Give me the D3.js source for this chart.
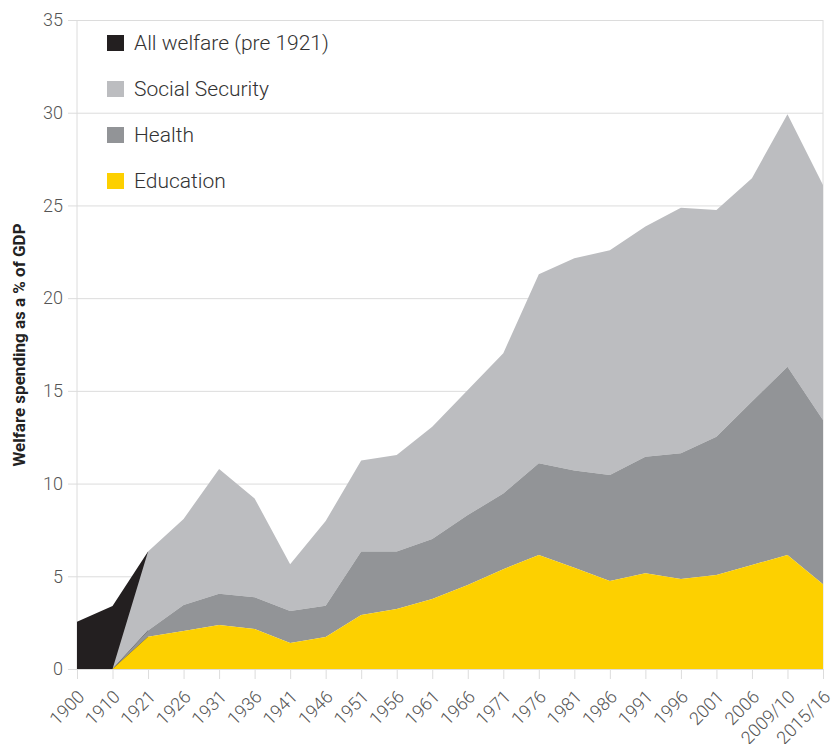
<!DOCTYPE html>
<html lang="en">
  <head>
    <meta charset="utf-8">
    <title>Welfare spending</title>
    <script src="https://cdn.jsdelivr.net/npm/d3@7"></script>
    <style>
      body { margin: 0; background: #fff; }
      text { font-family: Roboto, "Open Sans", sans-serif; }
    </style>
  </head>
  <body>
    <script>
    // categories along the bottom
    var years = ["1900", "1910", "1921", "1926", "1931", "1936", "1941", "1946",
                 "1951", "1956", "1961", "1966", "1971", "1976", "1981", "1986",
                 "1991", "1996", "2001", "2006", "2009/10", "2015/16"];

    // all welfare before 1921 (1900, 1910, 1921)
    var allWelfare = [2.55, 3.4, 6.33];

    // stacked series, from 1910 onwards
    var education = [0, 1.74, 2.05, 2.37, 2.16, 1.40, 1.73, 2.91, 3.24, 3.78, 4.53,
                     5.38, 6.15, 5.46, 4.75, 5.16, 4.85, 5.07, 5.61, 6.15, 4.57];
    var health = [0, 0.33, 1.40, 1.69, 1.71, 1.73, 1.68, 3.42, 3.09, 3.23, 3.77,
                  4.09, 4.94, 5.24, 5.71, 6.29, 6.78, 7.46, 8.81, 10.15, 8.86];
    var socialSecurity = [0, 4.26, 4.64, 6.73, 5.33, 2.52, 4.57, 4.91, 5.21, 6.06, 6.75,
                          7.56, 10.20, 11.45, 12.12, 12.41, 13.25, 12.23, 12.05, 13.62, 12.67];

    var yTicks = [0, 5, 10, 15, 20, 25, 30, 35];

    var legendItems = [
      {name: "All welfare (pre 1921)", color: "#231f20"},
      {name: "Social Security", color: "#bcbdc0"},
      {name: "Health", color: "#929497"},
      {name: "Education", color: "#fdd000"}
    ];

    var w = 832;
    var h = 744;
    // plot edges
    var plotLeft = 77, plotRight = 823, plotTop = 20, plotBottom = 669;
    var gridColor = "#dcdcdc";

    var svg = d3.select("body")
                .append("svg")
                .attr("width", w)
                .attr("height", h);

    var xScale = d3.scalePoint()
                   .domain(years)
                   .range([plotLeft, plotRight]);
    var yScale = d3.scaleLinear()
                   .domain([0, 35])
                   .range([plotBottom, plotTop]);

    // gridlines + y labels
    var yAxis = d3.axisLeft(yScale)
                  .tickValues(yTicks)
                  .tickSize(-(plotRight - plotLeft))
                  .tickPadding(14);

    var gy = svg.append("g")
                .attr("transform", "translate(" + plotLeft + ",0)")
                .call(yAxis);
    gy.select(".domain").remove();
    gy.selectAll(".tick line")
      .attr("x1", -9)
      .attr("stroke", gridColor);
    gy.selectAll(".tick text")
      .attr("font-size", 18)
      .attr("font-weight", 300)
      .attr("fill", "#555");

    // vertical frame lines
    svg.append("line")
       .attr("x1", plotLeft).attr("x2", plotLeft)
       .attr("y1", plotTop).attr("y2", plotBottom)
       .attr("stroke", gridColor);
    svg.append("line")
       .attr("x1", plotRight).attr("x2", plotRight)
       .attr("y1", plotTop).attr("y2", plotBottom)
       .attr("stroke", gridColor);

    // pre-1921 black area
    var preRows = allWelfare.map(function(v, i) {
      return {year: years[i], value: v};
    });
    var preArea = d3.area()
                    .x(function(d) { return xScale(d.year); })
                    .y0(yScale(0))
                    .y1(function(d) { return yScale(d.value); });
    svg.append("path")
       .datum(preRows)
       .attr("fill", "#231f20")
       .attr("d", preArea);

    // stacked areas from 1910
    var rows = education.map(function(v, i) {
      return {
        year: years[i + 1],
        education: v,
        health: health[i],
        social: socialSecurity[i]
      };
    });

    var stack = d3.stack().keys(["education", "health", "social"]);
    var layers = stack(rows);
    var colors = {education: "#fdd000", health: "#929497", social: "#bcbdc0"};

    var area = d3.area()
                 .x(function(d) { return xScale(d.data.year); })
                 .y0(function(d) { return yScale(d[0]); })
                 .y1(function(d) { return yScale(d[1]); });

    svg.selectAll(".layer")
       .data(layers.slice().reverse())
       .enter()
       .append("path")
       .attr("class", "layer")
       .attr("fill", function(d) { return colors[d.key]; })
       .attr("d", area);

    // x axis
    var xAxis = d3.axisBottom(xScale)
                  .tickSize(10)
                  .tickSizeOuter(0);
    var gx = svg.append("g")
                .attr("transform", "translate(0," + plotBottom + ")")
                .call(xAxis);
    gx.select(".domain").attr("stroke", gridColor);
    gx.selectAll(".tick line").attr("stroke", gridColor);
    gx.selectAll(".tick text")
      .attr("font-size", 18)
      .attr("font-weight", 300)
      .attr("fill", "#555")
      .attr("text-anchor", "end")
      .attr("x", 0)
      .attr("y", 0)
      .attr("dy", 0)
      .attr("transform", "translate(8,29) rotate(-45)");

    // y title
    svg.append("text")
       .attr("transform", "translate(25,345) rotate(-90)")
       .attr("text-anchor", "middle")
       .attr("font-family", "'Liberation Sans', Arial, sans-serif")
       .attr("font-size", 17)
       .attr("font-weight", 700)
       .attr("fill", "#222")
       .text("Welfare spending as a % of GDP");

    // legend
    var legend = svg.selectAll(".legend")
                    .data(legendItems)
                    .enter()
                    .append("g")
                    .attr("class", "legend")
                    .attr("transform", function(d, i) {
                      return "translate(107," + (35 + i * 46) + ")";
                    });
    legend.append("rect")
          .attr("width", 17)
          .attr("height", 16)
          .attr("fill", function(d) { return d.color; });
    legend.append("text")
          .attr("x", 27)
          .attr("y", 8)
          .attr("dy", "0.35em")
          .attr("font-size", 21)
          .attr("font-weight", 300)
          .attr("fill", "#333")
          .text(function(d) { return d.name; });
    </script>
  </body>
</html>
